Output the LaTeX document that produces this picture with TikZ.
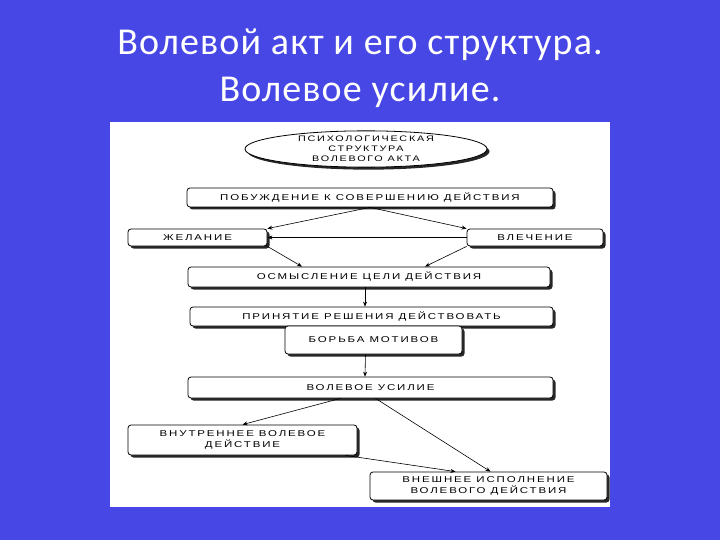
\documentclass[tikz,border=0pt]{standalone}
\usepackage{fontspec}
\setmainfont{Liberation Sans}
\newfontfamily\titlefont{Carlito}
\usetikzlibrary{shapes.geometric, shadows, arrows.meta}
\definecolor{slideblue}{RGB}{71,71,229}
\newcommand{\boxfont}{\fontsize{8.5}{11.5}\selectfont\addfontfeatures{FakeStretch=1.35,LetterSpace=22}}

\begin{document}
\begin{tikzpicture}[x=1pt,y=-1pt,
  box/.style={draw,rounded corners=3pt,fill=white,inner sep=0pt,align=center,
    font=\boxfont,line width=0.8pt,
    drop shadow={shadow xshift=2.5pt,shadow yshift=-2.5pt,fill=black,opacity=0.85}},
  titletext/.style={text=white,anchor=base,
    font=\titlefont\fontsize{38}{47}\selectfont\addfontfeatures{LetterSpace=3}},
  arr/.style={-{Stealth[length=5pt,width=4pt]},line width=0.6pt}]

\useasboundingbox (0,0) rectangle (720,540);

\fill[slideblue] (0,0) rectangle (720,540);

\fill[white] (110,122) rectangle (610,507);

\node[titletext] (t1) at (360,55) {Волевой акт и его структура.};
\node[titletext] (t2) at (360,102) {Волевое усилие.};


\node[box,ellipse,rounded corners=0pt,minimum width=242,minimum height=34,
  font=\boxfont\fontsize{8}{10}\selectfont] (ps) at (366,149)
{ПСИХОЛОГИЧЕСКАЯ\\СТРУКТУРА\\ВОЛЕВОГО АКТА};

\node[box,minimum width=366,minimum height=19] (pb) at (370,197.5)
{ПОБУЖДЕНИЕ К СОВЕРШЕНИЮ ДЕЙСТВИЯ};

\node[box,minimum width=139,minimum height=17] (zh) at (197.5,237.5) {ЖЕЛАНИЕ};

\node[box,minimum width=136,minimum height=17] (vl) at (535,237.5) {ВЛЕЧЕНИЕ};

\node[box,minimum width=362,minimum height=20] (osm) at (369,277)
{ОСМЫСЛЕНИЕ ЦЕЛИ ДЕЙСТВИЯ};

\node[box,minimum width=363,minimum height=19] (pr) at (371.5,316.5)
{ПРИНЯТИЕ РЕШЕНИЯ ДЕЙСТВОВАТЬ};

\node[box,minimum width=177,minimum height=28] (bm) at (373.5,340) {БОРЬБА МОТИВОВ};

\node[box,minimum width=365,minimum height=21] (vu) at (370.5,387.5) {ВОЛЕВОЕ УСИЛИЕ};

\node[box,minimum width=229,minimum height=30] (vn) at (242.5,440)
{ВНУТРЕННЕЕ ВОЛЕВОЕ\\ДЕЙСТВИЕ};

\node[box,minimum width=237,minimum height=28] (vs) at (488.5,486)
{ВНЕШНЕЕ ИСПОЛНЕНИЕ\\ВОЛЕВОГО ДЕЙСТВИЯ};


\draw[arr] (pb.south)--(zh.north east);
\draw[arr] (pb.south)--(vl.north west);
\draw[arr] (vl.west)--(zh.east);

\draw[arr] (zh.south east)--([xshift=-67pt]osm.north);
\draw[arr] (vl.south west)--([xshift=56pt]osm.north);

\draw[arr] ([xshift=-4pt]osm.south)--([xshift=-6.5pt]pr.north);

\draw[arr] ([xshift=-8pt]bm.south)--([xshift=-5.5pt]vu.north);

\draw[arr] ([xshift=-30pt]vu.south)--(vn.north);
\draw[arr] ([xshift=5pt]vu.south)--([xshift=2pt]vs.north);
\draw[arr] ([xshift=-12pt]vn.south east)--([xshift=-33pt]vs.north);

\end{tikzpicture}
\end{document}
